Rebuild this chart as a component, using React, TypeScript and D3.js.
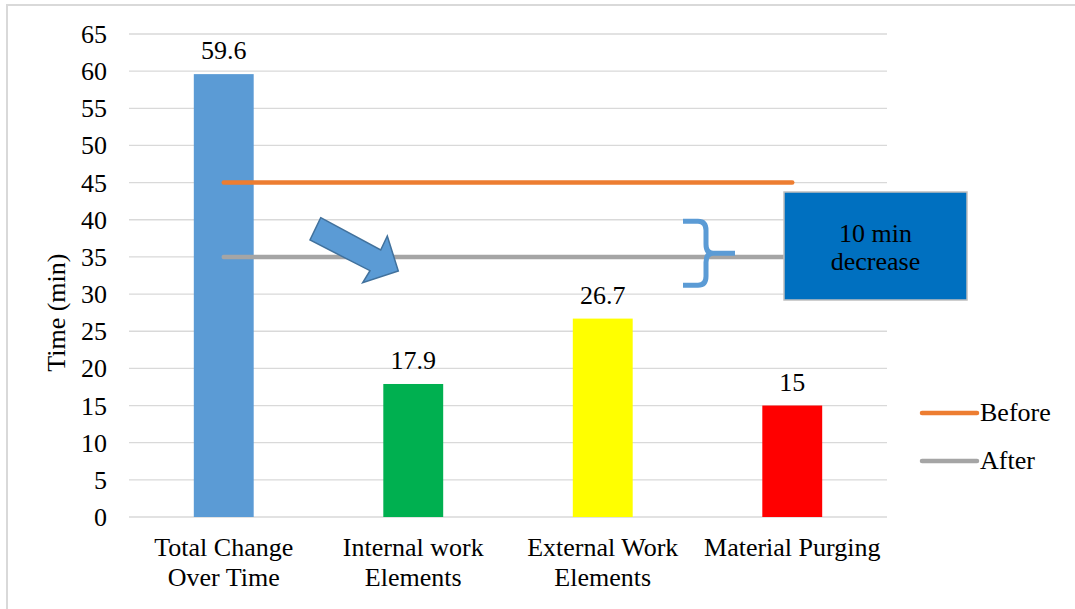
import React from "react";
import * as d3 from "d3";

const categories = [
  ["Total Change", "Over Time"],
  ["Internal work", "Elements"],
  ["External Work", "Elements"],
  ["Material Purging"],
];
const barValues = [59.6, 17.9, 26.7, 15];
const barColors = ["#5B9BD5", "#00B050", "#FFFF00", "#FF0000"];
const beforeValues = [45, 45, 45, 45];
const afterValues = [35, 35, 35, 35];
const yTicks = d3.range(0, 66, 5);
const seriesNames = ["Before", "After"];
const seriesColors = ["#ED7D31", "#A5A5A5"];

const W = 1075;
const H = 609;
const FONT = "'Liberation Serif', 'Times New Roman', serif";
const FS = 26;

export default function App() {
  const x = d3
    .scaleBand<number>()
    .domain(d3.range(categories.length))
    .range([129, 887])
    .paddingInner(0.684)
    .paddingOuter(0.342);
  const y = d3.scaleLinear().domain([0, 65]).range([517, 34]);
  const cx = (i: number) => (x(i) as number) + x.bandwidth() / 2;

  const line = d3
    .line<number>()
    .x((_, i) => cx(i))
    .y((d) => y(d));

  // arrow polygon (pixel shape)
  const arrow: [number, number][] = [
    [320.7, 217.7],
    [380.7, 250],
    [387.3, 236],
    [398.3, 271],
    [362.7, 282.7],
    [370, 270.7],
    [310, 240],
  ];

  const bTop = y(39.8);
  const bBot = y(31.2);
  const bMid = y(35.5);
  const brace = `M683,${bTop} H698 Q706,${bTop} 706,${bTop + 9} V${bMid - 9} Q706,${bMid} 713,${bMid} H735 M713,${bMid} Q706,${bMid} 706,${bMid + 9} V${bBot - 9} Q706,${bBot} 698,${bBot} H683`;

  return (
    <svg
      width={W}
      height={H}
      style={{ position: "absolute", left: 0, top: 0, background: "#fff" }}
      fontFamily={FONT}
    >
      <rect x={7} y={5} width={W + 20} height={H + 20} fill="#fff" stroke="#d9d9d9" strokeWidth={2} />
      {/* gridlines */}
      {yTicks.map((t) => (
        <line key={t} x1={129} x2={887} y1={y(t)} y2={y(t)} stroke="#d9d9d9" strokeWidth={1.3} />
      ))}
      {/* y tick labels */}
      {yTicks.map((t) => (
        <text key={"t" + t} x={107} y={y(t) + 9} textAnchor="end" fontSize={FS} fill="#000">
          {t}
        </text>
      ))}
      <text
        transform={`translate(65,${y(27.5)}) rotate(-90)`}
        textAnchor="middle"
        fontSize={FS}
        fill="#000"
      >
        Time (min)
      </text>
      {/* bars */}
      {barValues.map((v, i) => (
        <rect key={i} x={x(i)} y={y(v)} width={x.bandwidth()} height={y(0) - y(v)} fill={barColors[i]} />
      ))}
      {barValues.map((v, i) => (
        <text key={"l" + i} x={cx(i)} y={y(v) - 15} textAnchor="middle" fontSize={FS} fill="#000">
          {v}
        </text>
      ))}
      {/* category labels */}
      {categories.map((lines, i) => (
        <text key={"c" + i} x={cx(i)} textAnchor="middle" fontSize={FS} fill="#000">
          {lines.map((s, j) => (
            <tspan key={j} x={cx(i)} y={556 + j * 30}>
              {s}
            </tspan>
          ))}
        </text>
      ))}
      {/* lines */}
      <path d={line(beforeValues) as string} fill="none" stroke={seriesColors[0]} strokeWidth={4.5} strokeLinecap="round" />
      <path d={line(afterValues) as string} fill="none" stroke={seriesColors[1]} strokeWidth={4.5} strokeLinecap="round" />
      {/* arrow */}
      <polygon points={arrow.map((p) => p.join(",")).join(" ")} fill="#5B9BD5" stroke="#41719C" strokeWidth={1.5} />
      {/* brace */}
      <path d={brace} fill="none" stroke="#5B9BD5" strokeWidth={5} />
      {/* box */}
      <rect x={784} y={192} width={183} height={108} fill="#0070C0" stroke="#BFBFBF" strokeWidth={1.5} />
      <text x={875.5} y={241.5} textAnchor="middle" fontSize={FS} fill="#000">
        10 min
      </text>
      <text x={875.5} y={270} textAnchor="middle" fontSize={FS} fill="#000">
        decrease
      </text>
      {/* legend */}
      {seriesNames.map((n, i) => (
        <g key={n}>
          <line x1={922} x2={977} y1={413 + i * 48} y2={413 + i * 48} stroke={seriesColors[i]} strokeWidth={4.5} strokeLinecap="round" />
          <text x={980} y={421 + i * 48} fontSize={FS} fill="#000">
            {n}
          </text>
        </g>
      ))}
    </svg>
  );
}
